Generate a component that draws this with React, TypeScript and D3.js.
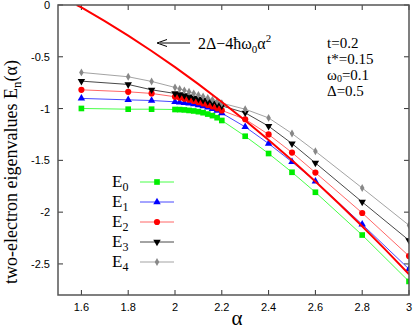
import React from 'react';
import * as d3 from 'd3';

// alpha values where the eigenvalues were computed
const alphas = [1.6, 1.8, 1.9, 2.0, 2.02, 2.04, 2.06, 2.08, 2.1, 2.12, 2.14, 2.16, 2.18, 2.2, 2.3, 2.4, 2.5, 2.6, 2.8, 3.0];

const e0 = [-0.999, -1.006, -1.006, -1.009, -1.01, -1.013, -1.018, -1.023, -1.03, -1.04, -1.053, -1.068, -1.088, -1.115, -1.267, -1.434, -1.615, -1.808, -2.221, -2.669];
const e1 = [-0.902, -0.916, -0.922, -0.935, -0.94, -0.945, -0.95, -0.958, -0.966, -0.976, -0.988, -1.002, -1.02, -1.044, -1.177, -1.338, -1.515, -1.702, -2.118, -2.55];
const e2 = [-0.819, -0.838, -0.854, -0.886, -0.895, -0.905, -0.915, -0.926, -0.938, -0.951, -0.965, -0.98, -0.998, -1.018, -1.103, -1.25, -1.425, -1.618, -2.008, -2.424];
const e3 = [-0.735, -0.767, -0.819, -0.854, -0.864, -0.874, -0.885, -0.896, -0.907, -0.919, -0.931, -0.944, -0.958, -0.974, -1.041, -1.17, -1.338, -1.525, -1.902, -2.272];
const e4 = [-0.651, -0.693, -0.738, -0.796, -0.81, -0.824, -0.838, -0.853, -0.868, -0.883, -0.898, -0.914, -0.93, -0.948, -1.006, -1.09, -1.241, -1.412, -1.767, -2.127];

// the 2Δ-4ħω0α² curve
const curveAlpha = [1.58, 1.6, 1.7, 1.8, 1.9, 2.0, 2.1, 2.2, 2.3, 2.4, 2.5, 2.6, 2.7, 2.8, 2.9, 3.0];
const curveE = [0.0, -0.024, -0.156, -0.296, -0.444, -0.6, -0.764, -0.936, -1.116, -1.304, -1.5, -1.704, -1.916, -2.136, -2.364, -2.6];

const xTicks = [1.6, 1.8, 2, 2.2, 2.4, 2.6, 2.8, 3];
const yTicks = [0, -0.5, -1, -1.5, -2, -2.5];

const params = ['t=0.2', 't*=0.15', 'ω0=0.1', 'Δ=0.5'];

const series = [
  { name: '0', values: e0, color: '#00ee00', line: '#33ff33', symbol: d3.symbolSquare, size: 32, rot: 0 },
  { name: '1', values: e1, color: '#0000ff', line: '#3333ff', symbol: d3.symbolTriangle, size: 24, rot: 0 },
  { name: '2', values: e2, color: '#ff0000', line: '#ff5555', symbol: d3.symbolCircle, size: 30, rot: 0 },
  { name: '3', values: e3, color: '#000000', line: '#333333', symbol: d3.symbolTriangle, size: 24, rot: 180 },
  { name: '4', values: e4, color: '#888888', line: '#999999', symbol: d3.symbolDiamond, size: 18, rot: 0 },
];

const W = 415, H = 334;
const margin = { left: 58, right: 6, top: 5, bottom: 39 };

export default function App() {
  const x = d3.scaleLinear().domain([1.5, 3]).range([margin.left, W - margin.right]);
  const y = d3.scaleLinear().domain([-2.8, 0]).range([H - margin.bottom, margin.top]);
  const x0 = x.range()[0], x1 = x.range()[1];
  const y0 = y.range()[0], y1 = y.range()[1];
  const tick = 5;

  const line = d3.line<number>().x((_, i) => x(alphas[i])).y(d => y(d));
  const curve = d3.line<number>().x((_, i) => x(curveAlpha[i])).y(d => y(d));

  const serif = 'Liberation Serif, Times New Roman, serif';
  const sans = 'Liberation Sans, Arial, sans-serif';

  return (
    <svg width={W} height={H} style={{ position: 'absolute', left: 0, top: 0, background: '#fff' }}>
      <defs>
        <clipPath id="plot">
          <rect x={x0} y={y1} width={x1 - x0} height={y0 - y1} />
        </clipPath>
      </defs>

      {/* ticks, inward on all four sides */}
      {xTicks.map(t => (
        <g key={'x' + t}>
          <line x1={x(t)} x2={x(t)} y1={y0} y2={y0 - tick} stroke="#333" strokeWidth={1} />
          <line x1={x(t)} x2={x(t)} y1={y1} y2={y1 + tick} stroke="#333" strokeWidth={1} />
          <text x={x(t)} y={y0 + 16} textAnchor="middle" fontFamily={sans} fontSize={11}>{t}</text>
        </g>
      ))}
      {yTicks.map(t => (
        <g key={'y' + t}>
          <line x1={x0} x2={x0 + tick} y1={y(t)} y2={y(t)} stroke="#333" strokeWidth={1} />
          <line x1={x1} x2={x1 - tick} y1={y(t)} y2={y(t)} stroke="#333" strokeWidth={1} />
          <text x={x0 - 8} y={y(t) + 4} textAnchor="end" fontFamily={sans} fontSize={11}>{t}</text>
        </g>
      ))}

      <g clipPath="url(#plot)">
        {series.map(s => (
          <g key={s.name}>
            <path d={line(s.values) || ''} fill="none" stroke={s.line} strokeWidth={0.9} />
            {s.values.map((v, i) => (
              <path key={i}
                d={d3.symbol().type(s.symbol).size(s.size)() || ''}
                transform={`translate(${x(alphas[i])},${y(v)}) rotate(${s.rot})`}
                fill={s.color} />
            ))}
          </g>
        ))}
        <path d={curve(curveE) || ''} fill="none" stroke="#ff0000" strokeWidth={2} />
      </g>

      <rect x={x0} y={y1} width={x1 - x0} height={y0 - y1} fill="none" stroke="#555" strokeWidth={1.5} />

      {/* legend */}
      {series.map((s, i) => {
        const ly = 182 + i * 20;
        return (
          <g key={'lg' + s.name}>
            <text x={112} y={ly + 5} fontFamily={serif} fontSize={17}>
              E<tspan fontSize={12} dy={4}>{s.name}</tspan>
            </text>
            <line x1={140} x2={174} y1={ly} y2={ly} stroke={s.line} strokeWidth={0.9} />
            <path d={d3.symbol().type(s.symbol).size(s.size)() || ''}
              transform={`translate(157,${ly}) rotate(${s.rot})`} fill={s.color} />
          </g>
        );
      })}

      {/* annotation */}
      <line x1={160} x2={190} y1={43} y2={43} stroke="#000" strokeWidth={1} />
      <path d="M157,43 L167,39.5 M157,43 L167,46.5" stroke="#000" strokeWidth={1} fill="none" />
      <text x={198} y={49} fontFamily={serif} fontSize={16}>
        2Δ−4ħω<tspan fontSize={11} dy={4}>0</tspan><tspan dy={-4}>α</tspan><tspan fontSize={11} dy={-7}>2</tspan>
      </text>

      {params.map((p, i) => (
        <text key={p} x={327} y={48 + i * 16} fontFamily={serif} fontSize={15}>
          {p.startsWith('ω0') ? <>ω<tspan fontSize={10} dy={2}>0</tspan><tspan dy={-2}>=0.1</tspan></> : p}
        </text>
      ))}

      <text transform={`translate(17,172) rotate(-90)`} textAnchor="middle" fontFamily={serif} fontSize={18}>
        two-electron eigenvalues E<tspan fontSize={13} dy={4}>n</tspan><tspan dy={-4}>(α)</tspan>
      </text>
      <text x={237} y={325} textAnchor="middle" fontFamily={serif} fontSize={21}>α</text>
    </svg>
  );
}
